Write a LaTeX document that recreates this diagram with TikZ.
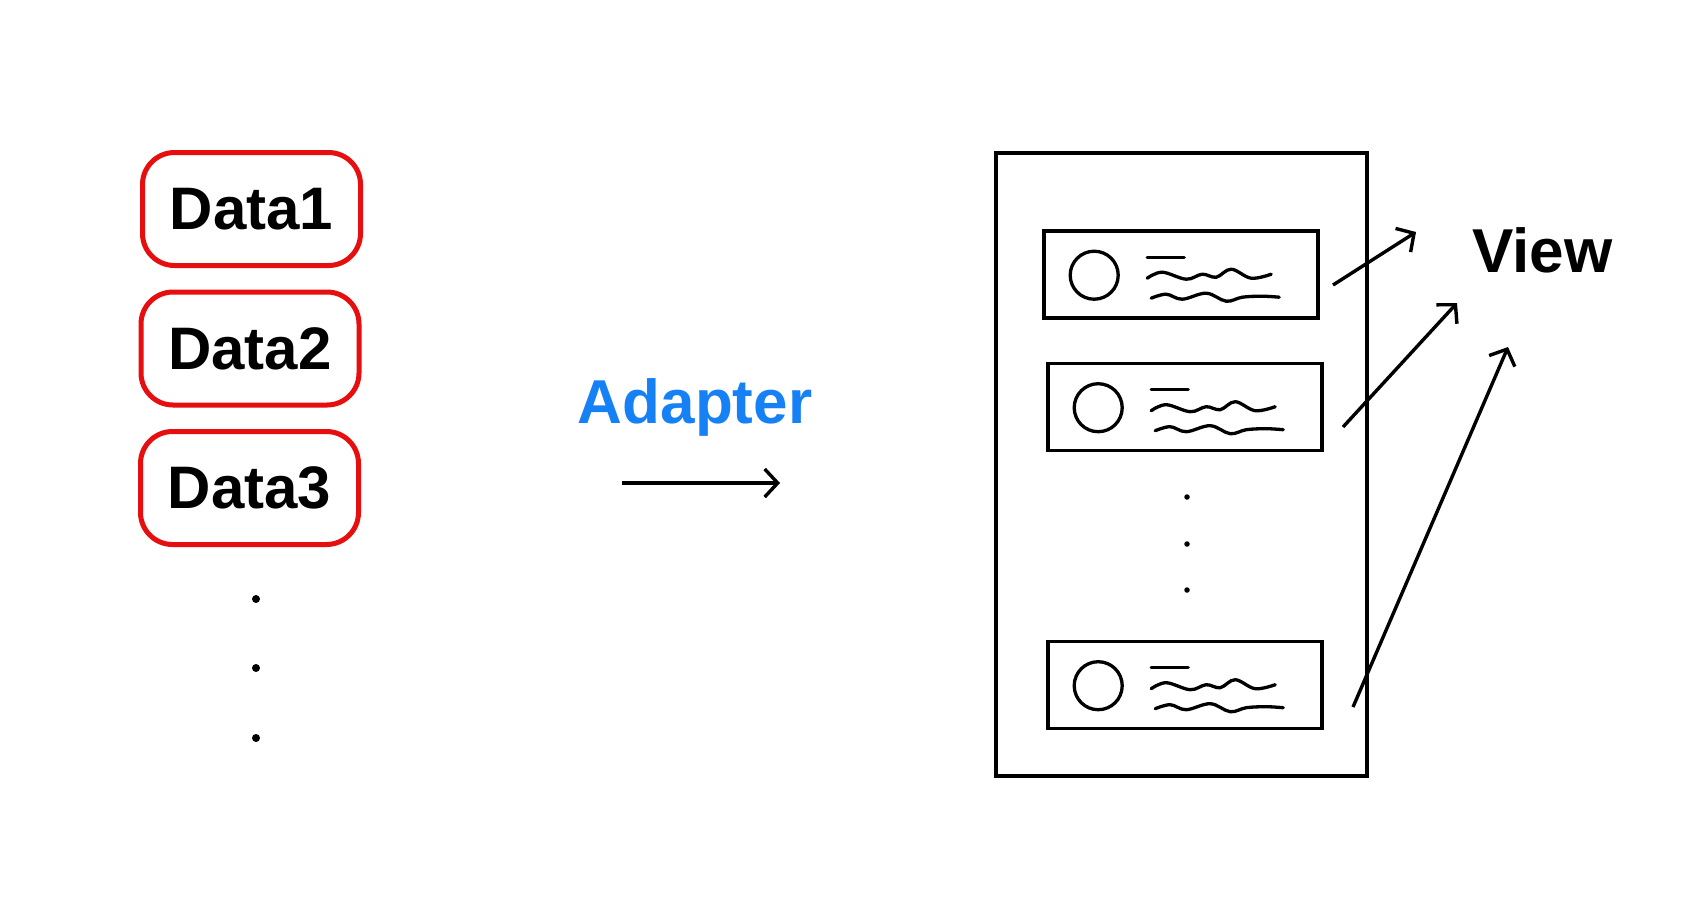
\documentclass[tikz,border=0pt]{standalone}
\usepackage{fontspec}
\setmainfont{Liberation Sans}
\usetikzlibrary{arrows.meta}
\definecolor{datared}{RGB}{230,14,14}
\definecolor{adblue}{RGB}{22,128,245}
\tikzset{
  databox/.style={draw=datared, line width=5pt, rounded corners=32pt, minimum width=218pt, minimum height=113pt, inner sep=0pt, font=\fontsize{60}{62}\selectfont\bfseries},
  bigtext/.style={inner sep=0pt, font=\fontsize{62}{64}\selectfont\bfseries},
  itembox/.style={draw, line width=3.6pt, minimum width=274pt, minimum height=87pt, inner sep=0pt},
  screenbox/.style={draw, line width=4pt, minimum width=371pt, minimum height=623pt, inner sep=0pt},
  bigdot/.style={circle, fill, inner sep=0pt, minimum size=8pt},
  smalldot/.style={circle, fill, inner sep=0pt, minimum size=5.5pt},
  barb/.style={-{Straight Barb[length=13pt,width=28pt,line width=3.4pt]}, line width=3.4pt},
  rowcontent/.pic={
    \draw[line width=3.3pt] (52,46) circle (24);
    \draw[line width=3.3pt, line cap=round] (105,28) -- (142,28);
    \draw[line width=3.3pt, line cap=round] plot[smooth, tension=0.6] coordinates {(105,49) (120,43) (144,50) (160,45) (174,48) (189,40) (209,49) (229,45)};
    \draw[line width=3.3pt, line cap=round] plot[smooth, tension=0.6] coordinates {(109,69) (124,65) (140,70) (164,64) (184,72) (200,68) (220,67) (237,68)};
  }
}
\begin{document}
\begin{tikzpicture}[x=1pt, y=-1pt]
\useasboundingbox (0,0) rectangle (1685,898);
% data boxes
\node[databox] (d1) at (251.5,209) {Data1};
\node[databox] (d2) at (250,348.5) {Data2};
\node[databox] (d3) at (249.5,488) {Data3};
\node[bigdot] (ld1) at (256,599) {};
\node[bigdot] (ld2) at (256,668) {};
\node[bigdot] (ld3) at (256,738) {};
% adapter
\node[bigtext, text=adblue, anchor=base] (adapter) at (695,423) {Adapter};
\coordinate (as) at (622,483);
\coordinate (ae) at (780,483);
\draw[barb] (as) -- (ae);
% screen
\node[screenbox] (screen) at (1181,464.5) {};
\node[itembox] (i1) at (1181,274.5) {};
\node[itembox] (i2) at (1185,407) {};
\node[itembox] (i3) at (1185,685) {};
\pic at (i1.north west) {rowcontent};
\pic at (i2.north west) {rowcontent};
\pic at (i3.north west) {rowcontent};
\node[smalldot] (md1) at (1187,497) {};
\node[smalldot] (md2) at (1187,544) {};
\node[smalldot] (md3) at (1187,590) {};
% view
\node[bigtext, anchor=base] (view) at (1542.5,272) {View};
\coordinate (s1) at (1333,285);
\coordinate (e1) at (1416,232);
\coordinate (s2) at (1343,427);
\coordinate (e2) at (1457,303);
\coordinate (s3) at (1353,707);
\coordinate (e3) at (1508,347);
\draw[barb] (s1) -- (e1);
\draw[barb] (s2) -- (e2);
\draw[barb] (s3) -- (e3);
\end{tikzpicture}
\end{document}
